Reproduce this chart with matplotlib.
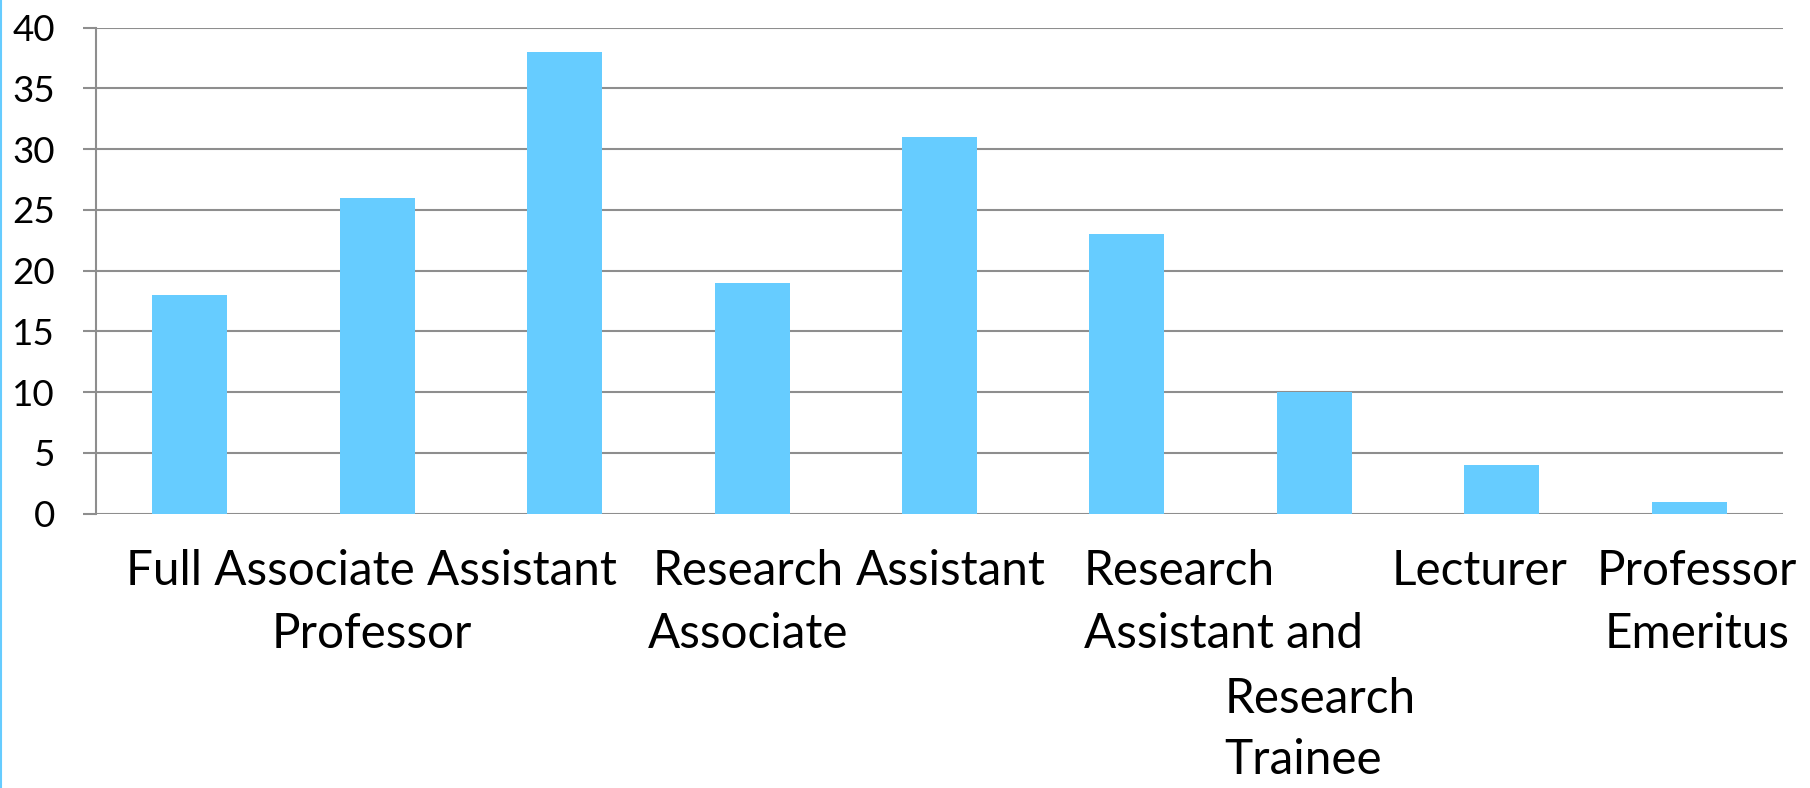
import matplotlib.pyplot as plt
from matplotlib.transforms import blended_transform_factory
from matplotlib.lines import Line2D

# bar values, one per category (left to right)
values = [18, 26, 38, 19, 31, 23, 10, 4, 1]
yticks = [0, 5, 10, 15, 20, 25, 30, 35, 40]

# category label text as it is laid out under the axis
label_lines = [
    ["Full Associate Assistant", "Professor"],
    ["Research", "Associate"],
    ["Assistant"],
    ["Research", "Assistant and"],
    ["Research", "Trainee"],
    ["Lecturer"],
    ["Professor", "Emeritus"],
]

# where each label block sits (category units), its alignment and first row
label_x = [0.97, 2.98, 4.06, 4.77, 5.52, 6.88, 8.04]
label_ha = ["center", "center", "center", "left", "left", "center", "center"]
label_row = [0, 0, 0, 0, 2, 0, 0]
row_baseline = [585, 648, 713, 774]  # pixels from top

W, H = 1810, 788
BAR = "#66CCFF"
GRID = "#8E8E8E"
FONT = "Lato"

plt.rcParams["font.family"] = [FONT, "DejaVu Sans"]

fig = plt.figure(figsize=(W / 100, H / 100), dpi=100)
left, right, top, bottom = 96, 1783, 27.7, 513.7
ax = fig.add_axes([left / W, 1 - bottom / H, (right - left) / W, (bottom - top) / H])

x = list(range(len(values)))
ax.bar(x, values, width=0.4, color=BAR, zorder=3)

ax.set_xlim(-0.5, len(values) - 0.5)
ax.set_ylim(0, 40)
ax.set_yticks(yticks)
ax.set_yticklabels([str(t) for t in yticks], fontsize=26.5)
ax.set_xticks([])

ax.yaxis.grid(True, color=GRID, linewidth=1.5, zorder=1)
ax.tick_params(axis="y", direction="out", length=9.4, width=1.5, color=GRID, pad=20)
for s in ["top", "right", "bottom"]:
    ax.spines[s].set_visible(False)
ax.spines["left"].set_color(GRID)
ax.spines["left"].set_linewidth(1.5)
ax.spines["left"].set_zorder(4)

# category labels under the axis
trans = blended_transform_factory(ax.transData, fig.transFigure)
for lines, lx, ha, row in zip(label_lines, label_x, label_ha, label_row):
    for i, line in enumerate(lines):
        fig.text(lx, 1 - row_baseline[row + i] / H, line, transform=trans,
                 ha=ha, va="baseline", fontsize=34.3, color="black")

# thin blue border at the left edge of the picture
fig.add_artist(Line2D([0.6 / W, 0.6 / W], [0, 1], transform=fig.transFigure,
                      color=BAR, linewidth=1.5))

fig.savefig("out.png", dpi=100)
